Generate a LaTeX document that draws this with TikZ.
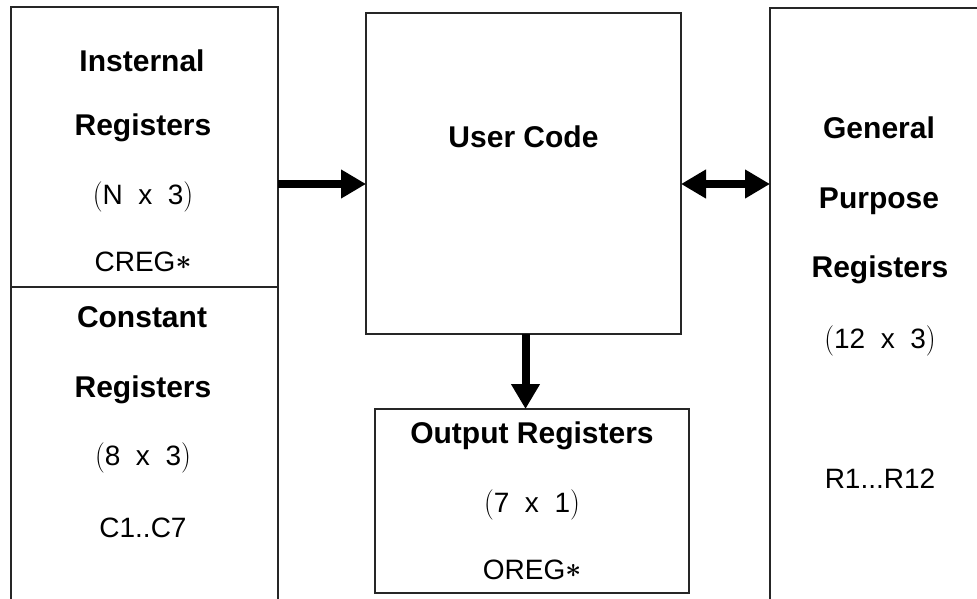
\documentclass[tikz,border=0pt]{standalone}
\usepackage{amsmath}
\usepackage{graphicx}
\usepackage{fontspec}
\setmainfont{Liberation Sans}
\usetikzlibrary{arrows.meta}
\newcommand{\lp}{\raisebox{-0.02em}{\scalebox{1}[1.1]{$($}}}
\newcommand{\rp}{\raisebox{-0.02em}{\scalebox{1}[1.1]{$)$}}}
\newcommand{\astr}{\raisebox{0.05em}{$\boldsymbol{\ast}$}}
\begin{document}
\begin{tikzpicture}[x=0.75pt,y=-0.75pt,
  box/.style={draw=black!85,line width=0.8pt,inner sep=0pt,outer sep=0pt},
  bt/.style={anchor=base,font=\bfseries\fontsize{22.5}{26}\selectfont,inner sep=0pt},
  rt/.style={anchor=base,font=\fontsize{21}{25}\selectfont,inner sep=0pt},
  bigarrow/.style={line width=6pt,-{Triangle[length=18.75pt,width=20.5pt]}},
  dblarrow/.style={line width=6pt,{Triangle[length=18.75pt,width=20.5pt]}-{Triangle[length=18.75pt,width=20.5pt]}}]
\clip (0,0) rectangle (977,599);
\fill[white] (0,0) rectangle (977,599);
% boxes
\node[box,minimum width=200.25pt,minimum height=210pt] (lt) at (144.5,147) {};
\node[box,minimum width=200.25pt,minimum height=249.75pt] (lb) at (144.5,453.5) {};
\node[box,minimum width=236.25pt,minimum height=240.75pt] (uc) at (523.5,173.5) {};
\node[box,minimum width=235.5pt,minimum height=138pt] (out) at (532,501) {};
\node[box,minimum width=165pt,minimum height=459pt] (gp) at (880,314) {};
% texts left top
\node[bt] (t1) at (142,72) {Insternal};
\node[bt] (t2) at (143,136) {Registers};
\node[rt] (t3) at (143,204) {\lp N~ x~ 3\rp};
\node[rt] (t4) at (143,271) {CREG\astr};
% left bottom
\node[bt] (t5) at (142,327) {Constant};
\node[bt] (t6) at (143,397) {Registers};
\node[rt] (t7) at (143,465) {\lp 8~ x~ 3\rp};
\node[rt] (t8) at (143,537) {C1..C7};
% center
\node[bt] (t9) at (523.5,147) {User Code};
% output
\node[bt] (t10) at (532,443) {Output Registers};
\node[rt] (t11) at (532,512) {\lp 7~ x~ 1\rp};
\node[rt] (t12) at (532,579) {OREG\astr};
% right
\node[bt] (t13) at (879,138) {General};
\node[bt] (t14) at (879,208) {Purpose};
\node[bt] (t15) at (880,277) {Registers};
\node[rt] (t16) at (880,348) {\lp 12~ x~ 3\rp};
\node[rt] (t17) at (880,488) {R1...R12};
% connectors
\coordinate (ya) at (0,184);
\draw[bigarrow] (lt.east |- ya) -- (uc.west |- ya);
\draw[dblarrow] (uc.east |- ya) -- (gp.west |- ya);
\draw[bigarrow] ([xshift=1.5pt]uc.south) -- ([xshift=1.5pt]uc.south |- out.north);
\end{tikzpicture}
\end{document}
